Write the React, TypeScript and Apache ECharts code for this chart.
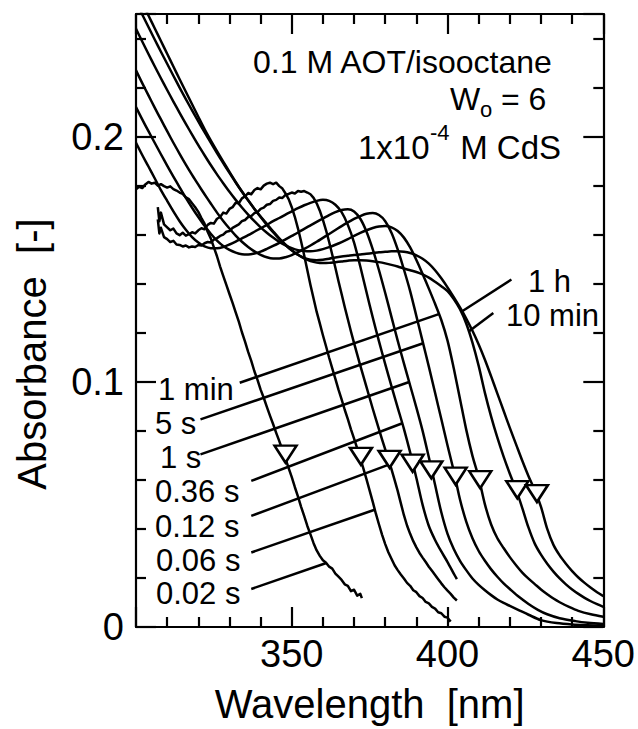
import React, { useEffect, useRef } from 'react';
import * as echarts from 'echarts';

const FONT = "'Liberation Sans', Arial, Helvetica, sans-serif";

// ---- data: absorbance spectra [wavelength nm, absorbance] ----
const seriesNames = ['0.02 s', '0.06 s', '0.12 s', '0.36 s', '1 s', '5 s', '1 min', '10 min', '1 h'];

const s002: [number, number][] = [
  [300, 0.1785], [301, 0.1795], [302, 0.1790], [303, 0.1805], [304, 0.1815], [305, 0.1808], [306, 0.1812], [307, 0.1800],
  [308, 0.1806], [309, 0.1798], [310, 0.1792], [311, 0.1797], [312, 0.1786], [313, 0.1780], [314, 0.1772], [315, 0.1766],
  [316, 0.1752], [317, 0.1745], [318, 0.1728], [319, 0.1712], [320, 0.1693], [321, 0.1668], [322, 0.1645], [323, 0.1612],
  [324, 0.1585], [325, 0.1548], [326, 0.1512], [327, 0.1470], [328, 0.1432], [329, 0.1395], [330, 0.1358], [331, 0.1322],
  [332, 0.1283], [333, 0.1245], [334, 0.1202], [335, 0.1164], [336, 0.1122], [337, 0.1085], [338, 0.1043], [339, 0.1008],
  [340, 0.0968], [341, 0.0935], [342, 0.0898], [343, 0.0862], [344, 0.0828], [345, 0.0792], [346, 0.0758], [347, 0.0722],
  [348, 0.0686], [349, 0.0648], [350, 0.0611], [351, 0.0570], [352, 0.0532], [353, 0.0490], [354, 0.0452], [355, 0.0412],
  [356, 0.0378], [357, 0.0342], [358, 0.0312], [359, 0.0290], [360, 0.0272], [361, 0.0262], [362, 0.0246], [363, 0.0238],
  [364, 0.0218], [365, 0.0205], [366, 0.0192], [367, 0.0174], [368, 0.0168], [369, 0.0146], [370, 0.0152], [371, 0.0128],
  [372, 0.0135], [372.5, 0.0118],
];

const s006: [number, number][] = [
  [307, 0.1712], [307.5, 0.1655], [308, 0.1690], [309, 0.1642], [310, 0.1630], [311, 0.1618], [312, 0.1625], [313, 0.1605],
  [314, 0.1598], [315, 0.1608], [316, 0.1596], [317, 0.1602], [318, 0.1610], [319, 0.1605], [320, 0.1618], [321, 0.1626],
  [322, 0.1622], [323, 0.1640], [324, 0.1648], [325, 0.1645], [326, 0.1665], [327, 0.1672], [328, 0.1690], [329, 0.1686],
  [330, 0.1705], [331, 0.1712], [332, 0.1730], [333, 0.1728], [334, 0.1748], [335, 0.1756], [336, 0.1770], [337, 0.1765],
  [338, 0.1782], [339, 0.1790], [340, 0.1785], [341, 0.1800], [342, 0.1808], [343, 0.1812], [344, 0.1806], [345, 0.1812],
  [346, 0.1798], [347, 0.1788], [348, 0.1768], [349, 0.1745], [350, 0.1712], [351, 0.1672], [352, 0.1625], [353, 0.1572],
  [354, 0.1515], [355, 0.1455], [356, 0.1395], [357, 0.1340], [358, 0.1285], [359, 0.1238], [360, 0.1190], [361, 0.1145],
  [362, 0.1098], [363, 0.1055], [364, 0.1012], [365, 0.0968], [366, 0.0928], [367, 0.0886], [368, 0.0848], [369, 0.0806],
  [370, 0.0768], [371, 0.0728], [372, 0.0688], [373, 0.0646], [374, 0.0602], [375, 0.0556], [376, 0.0510], [377, 0.0462],
  [378, 0.0418], [379, 0.0376], [380, 0.0338], [381, 0.0305], [382, 0.0278], [383, 0.0252], [384, 0.0232], [385, 0.0214],
  [386, 0.0198], [387, 0.0180], [388, 0.0168], [389, 0.0150], [390, 0.0142], [391, 0.0126], [392, 0.0118], [393, 0.0102],
  [394, 0.0096], [395, 0.0082], [396, 0.0075], [397, 0.0060], [398, 0.0056], [399, 0.0042], [400, 0.0038], [401, 0.0022],
];

const s012: [number, number][] = [
  [307, 0.1662], [307.5, 0.1605], [308, 0.1628], [309, 0.1590], [310, 0.1582], [311, 0.1570], [312, 0.1575], [313, 0.1560],
  [314, 0.1558], [315, 0.1552], [316, 0.1556], [317, 0.1548], [318, 0.1552], [319, 0.1550], [320, 0.1558], [321, 0.1556],
  [322, 0.1565], [323, 0.1570], [324, 0.1568], [325, 0.1580], [326, 0.1586], [327, 0.1595], [328, 0.1600], [329, 0.1612],
  [330, 0.1615], [331, 0.1628], [332, 0.1635], [333, 0.1642], [334, 0.1655], [335, 0.1660], [336, 0.1672], [337, 0.1676],
  [338, 0.1688], [339, 0.1692], [340, 0.1705], [341, 0.1710], [342, 0.1722], [343, 0.1725], [344, 0.1738], [345, 0.1742],
  [346, 0.1752], [347, 0.1750], [348, 0.1762], [349, 0.1766], [350, 0.1772], [351, 0.1768], [352, 0.1778], [353, 0.1775],
  [354, 0.1778], [355, 0.1772], [356, 0.1765], [357, 0.1750], [358, 0.1728], [359, 0.1698], [360, 0.1660], [361, 0.1618],
  [362, 0.1570], [363, 0.1518], [364, 0.1465], [365, 0.1410], [366, 0.1358], [367, 0.1305], [368, 0.1255], [369, 0.1205],
  [370, 0.1158], [371, 0.1112], [372, 0.1066], [373, 0.1022], [374, 0.0978], [375, 0.0934], [376, 0.0890], [377, 0.0848],
  [378, 0.0806], [379, 0.0764], [380, 0.0724], [381, 0.0684], [382, 0.0644], [383, 0.0600], [384, 0.0555], [385, 0.0505],
  [386, 0.0456], [387, 0.0414], [388, 0.0380], [389, 0.0350], [390, 0.0325], [391, 0.0302], [392, 0.0283], [393, 0.0265],
  [394, 0.0246], [395, 0.0229], [396, 0.0212], [397, 0.0195], [398, 0.0178], [399, 0.0162], [400, 0.0148], [401, 0.0135],
  [402, 0.0120], [403, 0.0108],
];

const s036: [number, number][] = [
  [300, 0.1975], [302, 0.1925], [304, 0.1878], [306, 0.1830], [308, 0.1782], [310, 0.1738], [312, 0.1695], [314, 0.1655],
  [316, 0.1620], [318, 0.1590], [320, 0.1568], [322, 0.1552], [324, 0.1545], [326, 0.1545], [328, 0.1550], [330, 0.1560],
  [332, 0.1572], [334, 0.1585], [336, 0.1598], [338, 0.1612], [340, 0.1626], [342, 0.1640], [344, 0.1655], [346, 0.1668],
  [348, 0.1682], [350, 0.1695], [352, 0.1708], [354, 0.1720], [356, 0.1730], [358, 0.1738], [360, 0.1742], [362, 0.1738],
  [364, 0.1722], [366, 0.1692], [368, 0.1640], [370, 0.1568], [372, 0.1470], [374, 0.1365], [376, 0.1262], [378, 0.1165],
  [380, 0.1072], [382, 0.0982], [384, 0.0895], [386, 0.0808], [388, 0.0712], [390, 0.0608], [392, 0.0498], [394, 0.0412],
  [396, 0.0355], [398, 0.0308], [400, 0.0265], [402, 0.0218], [403, 0.0195],
];

const s1s: [number, number][] = [
  [300, 0.2120], [302, 0.2070], [304, 0.2022], [306, 0.1975], [308, 0.1928], [310, 0.1882], [312, 0.1837], [314, 0.1793],
  [316, 0.1750], [318, 0.1710], [320, 0.1672], [322, 0.1636], [324, 0.1604], [326, 0.1576], [328, 0.1554], [330, 0.1538],
  [332, 0.1527], [334, 0.1520], [336, 0.1519], [338, 0.1523], [340, 0.1531], [342, 0.1542], [344, 0.1554], [346, 0.1567],
  [348, 0.1581], [350, 0.1595], [352, 0.1609], [354, 0.1624], [356, 0.1638], [358, 0.1652], [360, 0.1666], [362, 0.1680],
  [364, 0.1692], [366, 0.1701], [368, 0.1704], [370, 0.1695], [372, 0.1665], [374, 0.1612], [376, 0.1540], [378, 0.1455],
  [380, 0.1362], [382, 0.1265], [384, 0.1168], [386, 0.1075], [388, 0.0985], [390, 0.0895], [392, 0.0800], [394, 0.0692],
  [396, 0.0580], [398, 0.0468], [400, 0.0380], [402, 0.0318], [404, 0.0270], [406, 0.0232], [408, 0.0198], [410, 0.0172],
  [412, 0.0150], [414, 0.0130], [416, 0.0112], [418, 0.0098], [420, 0.0086], [423, 0.0068], [426, 0.0050], [430, 0.0028],
  [435, 0.0016], [440, 0.0010], [445, 0.0007], [450, 0.0005],
];

const s5s: [number, number][] = [
  [300, 0.2270], [302, 0.2218], [304, 0.2168], [306, 0.2118], [308, 0.2070], [310, 0.2022], [312, 0.1975], [314, 0.1930],
  [316, 0.1886], [318, 0.1844], [320, 0.1804], [322, 0.1765], [324, 0.1727], [326, 0.1690], [328, 0.1656], [330, 0.1625],
  [332, 0.1596], [334, 0.1571], [336, 0.1550], [338, 0.1532], [340, 0.1518], [342, 0.1508], [344, 0.1503], [346, 0.1503],
  [348, 0.1508], [350, 0.1517], [352, 0.1529], [354, 0.1542], [356, 0.1556], [358, 0.1571], [360, 0.1587], [362, 0.1603],
  [364, 0.1619], [366, 0.1635], [368, 0.1650], [370, 0.1664], [372, 0.1676], [374, 0.1685], [376, 0.1688], [378, 0.1680],
  [380, 0.1655], [382, 0.1608], [384, 0.1540], [386, 0.1458], [388, 0.1370], [390, 0.1268], [392, 0.1165], [394, 0.1062],
  [396, 0.0955], [398, 0.0848], [400, 0.0740], [402, 0.0636], [404, 0.0520], [406, 0.0430], [408, 0.0362], [410, 0.0310],
  [412, 0.0270], [414, 0.0235], [416, 0.0205], [418, 0.0178], [420, 0.0155], [423, 0.0122], [426, 0.0094], [429, 0.0070],
  [432, 0.0052], [436, 0.0036], [441, 0.0024], [445, 0.0017], [450, 0.0012],
];

const s1min: [number, number][] = [
  [300, 0.2440], [302, 0.2388], [304, 0.2337], [306, 0.2287], [308, 0.2238], [310, 0.2190], [312, 0.2143], [314, 0.2097],
  [316, 0.2052], [318, 0.2008], [320, 0.1965], [322, 0.1924], [324, 0.1884], [326, 0.1846], [328, 0.1810], [330, 0.1775],
  [332, 0.1742], [334, 0.1711], [336, 0.1682], [338, 0.1655], [340, 0.1630], [342, 0.1608], [344, 0.1588], [346, 0.1570],
  [348, 0.1556], [350, 0.1545], [352, 0.1537], [354, 0.1533], [356, 0.1532], [358, 0.1535], [360, 0.1541], [362, 0.1549],
  [364, 0.1559], [366, 0.1570], [368, 0.1582], [370, 0.1595], [372, 0.1607], [374, 0.1618], [376, 0.1627], [378, 0.1633],
  [380, 0.1635], [382, 0.1630], [384, 0.1615], [386, 0.1588], [388, 0.1548], [390, 0.1497], [392, 0.1440], [394, 0.1380],
  [396, 0.1318], [398, 0.1252], [400, 0.1168], [402, 0.1055], [404, 0.0930], [406, 0.0805], [408, 0.0698], [410, 0.0610],
  [412, 0.0500], [414, 0.0418], [416, 0.0362], [418, 0.0322], [420, 0.0285], [422, 0.0252], [424, 0.0222], [426, 0.0197],
  [428, 0.0175], [430, 0.0153], [432, 0.0134], [434, 0.0116], [436, 0.0101], [439, 0.0082], [442, 0.0066], [446, 0.0052],
  [450, 0.0042],
];

const s10min: [number, number][] = [
  [300, 0.2550], [302, 0.2498], [304, 0.2447], [306, 0.2396], [308, 0.2346], [310, 0.2297], [312, 0.2248], [314, 0.2200],
  [316, 0.2153], [318, 0.2107], [320, 0.2062], [322, 0.2018], [324, 0.1975], [326, 0.1933], [328, 0.1892], [330, 0.1852],
  [332, 0.1813], [334, 0.1776], [336, 0.1740], [338, 0.1705], [340, 0.1672], [342, 0.1640], [344, 0.1610], [346, 0.1583],
  [348, 0.1558], [350, 0.1536], [352, 0.1518], [354, 0.1503], [356, 0.1492], [358, 0.1486], [360, 0.1484], [362, 0.1485],
  [364, 0.1488], [366, 0.1491], [368, 0.1494], [370, 0.1496], [372, 0.1496], [374, 0.1495], [376, 0.1492], [378, 0.1488],
  [380, 0.1483], [382, 0.1477], [384, 0.1470], [386, 0.1462], [388, 0.1455], [390, 0.1448], [392, 0.1438], [394, 0.1425],
  [396, 0.1408], [398, 0.1390], [400, 0.1370], [402, 0.1338], [404, 0.1296], [406, 0.1238], [408, 0.1160], [410, 0.1065],
  [412, 0.0955], [414, 0.0858], [416, 0.0772], [418, 0.0695], [420, 0.0625], [422, 0.0560], [424, 0.0485], [426, 0.0405],
  [428, 0.0340], [430, 0.0295], [432, 0.0258], [434, 0.0226], [436, 0.0198], [438, 0.0174], [440, 0.0153], [442, 0.0135],
  [444, 0.0119], [446, 0.0105], [448, 0.0093], [450, 0.0082],
];

const s1h: [number, number][] = [
  [300, 0.2598], [302, 0.2546], [304, 0.2494], [306, 0.2442], [308, 0.2390], [310, 0.2338], [312, 0.2286], [314, 0.2234],
  [316, 0.2183], [318, 0.2132], [320, 0.2081], [322, 0.2031], [324, 0.1985], [326, 0.1941], [328, 0.1898], [330, 0.1856],
  [332, 0.1815], [334, 0.1776], [336, 0.1740], [338, 0.1706], [340, 0.1674], [342, 0.1644], [344, 0.1614], [346, 0.1585],
  [348, 0.1559], [350, 0.1536], [352, 0.1518], [354, 0.1505], [356, 0.1498], [358, 0.1496], [360, 0.1498], [362, 0.1502],
  [364, 0.1507], [366, 0.1511], [368, 0.1514], [370, 0.1517], [372, 0.1519], [374, 0.1522], [376, 0.1525], [378, 0.1528],
  [380, 0.1530], [382, 0.1532], [384, 0.1532], [386, 0.1530], [388, 0.1525], [390, 0.1516], [392, 0.1502], [394, 0.1482],
  [396, 0.1455], [398, 0.1422], [400, 0.1385], [402, 0.1345], [404, 0.1303], [406, 0.1258], [408, 0.1208], [410, 0.1152],
  [412, 0.1090], [414, 0.1022], [416, 0.0952], [418, 0.0882], [420, 0.0812], [422, 0.0745], [424, 0.0678], [426, 0.0615],
  [428, 0.0558], [430, 0.0490], [432, 0.0400], [434, 0.0335], [436, 0.0292], [438, 0.0258], [440, 0.0228], [442, 0.0202],
  [444, 0.0180], [446, 0.0160], [448, 0.0142], [450, 0.0126],
];

const spectra = [s002, s006, s012, s036, s1s, s5s, s1min, s10min, s1h];
const noisy = [true, true, true, false, false, false, false, false, false];

// absorption-onset markers (open down-triangles)
const onsetPoints: [number, number][] = [
  [348.0, 0.0705], [372.2, 0.0696], [381.4, 0.0684], [388.8, 0.0668], [394.8, 0.0641],
  [402.6, 0.0615], [410.5, 0.0601], [422.4, 0.0560], [428.7, 0.0544],
];

// leader lines from label to curve, [λ1, A1, λ2, A2]
const leaderLines: [number, number, number, number][] = [
  [337.0, 0.0155, 361.1, 0.0261],
  [337.0, 0.0304, 376.6, 0.0478],
  [337.0, 0.0453, 381.6, 0.0664],
  [337.0, 0.0596, 385.5, 0.0831],
  [320.7, 0.0704, 387.7, 0.0999],
  [320.7, 0.0847, 392.2, 0.1157],
  [333.3, 0.0996, 397.2, 0.1276],
  [414.7, 0.1281, 406.8, 0.1205],
  [420.5, 0.1417, 404.7, 0.1288],
];

// axis ticks
const xMin = 300, xMax = 450, xStep = 50;
const xTickLabels = [350, 400, 450];
const yMin = 0, yMax = 0.25, yStep = 0.1;
const yTickLabels = [0, 0.1, 0.2];

// curve label placement (pixels)
const labelPos: { text: string; x: number; y: number }[] = [
  { text: '0.02 s', x: 156, y: 593 },
  { text: '0.06 s', x: 156, y: 560 },
  { text: '0.12 s', x: 155, y: 526 },
  { text: '0.36 s', x: 155, y: 491 },
  { text: '1 s', x: 160, y: 457 },
  { text: '5 s', x: 155, y: 423 },
  { text: '1 min', x: 158, y: 389 },
  { text: '10 min', x: 506, y: 315 },
  { text: '1 h', x: 528, y: 281 },
];

export default function App() {
  const ref = useRef<HTMLDivElement>(null);
  useEffect(() => {
    document.body.style.margin = '0';
    if (!ref.current) return;
    const chart = echarts.init(ref.current, undefined, { renderer: 'svg' });

    const axisLine = { show: true, onZero: false, lineStyle: { color: '#000', width: 2.2 } };
    const axisTick = { show: true, inside: true, length: 20, lineStyle: { color: '#000', width: 2.2 } };
    const minorTick = { show: true, splitNumber: 5, length: 10, lineStyle: { color: '#000', width: 2.2 } };
    const near = (a: number, b: number) => Math.abs(a - b) < 1e-9;

    const lineSeries = spectra.map((d, i) => ({
      type: 'line',
      name: seriesNames[i],
      data: d,
      showSymbol: false,
      symbol: 'none',
      smooth: noisy[i] ? false : 0.3,
      lineStyle: { color: '#000', width: 2.5, join: 'round', opacity: 1 },
      silent: true,
      z: 2,
    }));

    const leaderSeries = leaderLines.map((l) => ({
      type: 'line',
      data: [[l[0], l[1]], [l[2], l[3]]],
      showSymbol: false,
      symbol: 'none',
      lineStyle: { color: '#000', width: 2.5, opacity: 1 },
      silent: true,
      z: 2,
    }));

    const texts: any[] = labelPos.map((l) => ({
      type: 'text',
      x: l.x,
      y: l.y,
      style: { text: l.text, fontSize: 31, fontFamily: FONT, fill: '#000', align: 'left', verticalAlign: 'middle' },
      z: 10,
    }));

    const t = (text: string, x: number, y: number, size: number) => ({
      type: 'text',
      x,
      y,
      style: { text, fontSize: size, fontFamily: FONT, fill: '#000', align: 'left', verticalAlign: 'middle' },
      z: 10,
    });

    texts.push(t('0.1 M AOT/isooctane', 253, 62, 32));
    texts.push(t('W', 450, 99, 32));
    texts.push(t('o', 480, 109, 22));
    texts.push(t(' = 6', 492, 99, 32));
    texts.push(t('1x10', 358, 147, 33));
    texts.push(t('-4', 430, 132, 22));
    texts.push(t(' M CdS', 451, 147, 33));
    texts.push({
      type: 'text',
      x: 32,
      y: 354,
      rotation: Math.PI / 2,
      style: { text: 'Absorbance  [-]', fontSize: 40, fontFamily: FONT, fill: '#000', align: 'center', verticalAlign: 'middle' },
      z: 10,
    });

    const option: any = {
      animation: false,
      backgroundColor: '#fff',
      grid: { left: 136, right: 26, top: 14, bottom: 101, containLabel: false },
      xAxis: [
        {
          type: 'value', min: xMin, max: xMax, interval: xStep, position: 'bottom',
          axisLine, axisTick, minorTick, splitLine: { show: false }, minorSplitLine: { show: false },
          axisLabel: {
            show: true, margin: 8, fontSize: 38, color: '#000', fontFamily: FONT,
            formatter: (v: number) => (xTickLabels.some((x) => near(x, v)) ? String(v) : ''),
          },
          name: 'Wavelength  [nm]', nameLocation: 'middle', nameGap: 77,
          nameTextStyle: { fontSize: 40, color: '#000', fontFamily: FONT, verticalAlign: 'middle' },
        },
        {
          type: 'value', min: xMin, max: xMax, interval: xStep, position: 'top',
          axisLine, axisTick, minorTick, splitLine: { show: false }, axisLabel: { show: false },
        },
      ],
      yAxis: [
        {
          type: 'value', min: yMin, max: yMax, interval: yStep, position: 'left',
          axisLine, axisTick, minorTick, splitLine: { show: false }, minorSplitLine: { show: false },
          axisLabel: {
            show: true, margin: 12, fontSize: 38, color: '#000', fontFamily: FONT,
            formatter: (v: number) => {
              const m = yTickLabels.find((y) => near(y, v));
              return m === undefined ? '' : String(m);
            },
          },
        },
        {
          type: 'value', min: yMin, max: yMax, interval: yStep, position: 'right',
          axisLine, axisTick, minorTick, splitLine: { show: false }, axisLabel: { show: false },
        },
      ],
      series: [
        ...lineSeries,
        ...leaderSeries,
        {
          type: 'scatter',
          name: 'onset',
          data: onsetPoints,
          symbol: 'triangle',
          symbolRotate: 180,
          symbolSize: [22, 17],
          itemStyle: { color: '#fff', borderColor: '#000', borderWidth: 2.5, opacity: 1 },
          silent: true,
          z: 5,
        },
      ],
      graphic: texts,
    };
    chart.setOption(option);
    return () => chart.dispose();
  }, []);
  return <div ref={ref} style={{ width: 638, height: 729 }} />;
}
